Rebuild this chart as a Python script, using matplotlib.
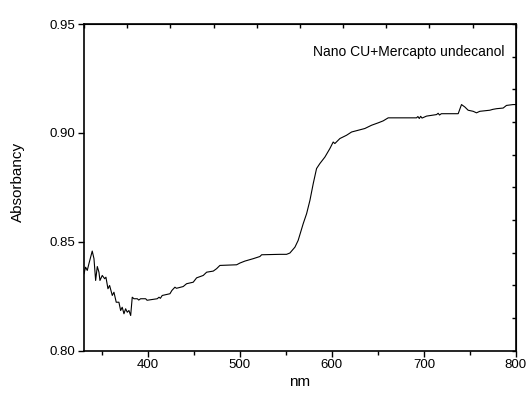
import matplotlib
matplotlib.use('Agg')
import matplotlib.pyplot as plt
import matplotlib.ticker as mtick
import numpy as np

plt.rcParams['font.family'] = ['Liberation Sans', 'DejaVu Sans']

# wavelength (nm) and absorbancy
wavelength = [330.4, 332.2, 334.0, 335.8, 339.4, 341.3, 343.1, 344.9, 346.7, 347.8,
              350.3, 352.9, 354.3, 356.5, 358.3, 361.2, 363.0, 365.5, 368.4, 370.3,
              372.0, 373.9, 375.7, 377.5, 379.3, 381.2, 382.9, 384.8, 388.4, 390.0,
              392.0, 397.5, 399.0, 410.1, 412.0, 413.5, 415.5, 423.9, 426.0, 429.3,
              431.0, 438.3, 442.0, 449.2, 452.9, 460.1, 463.8, 471.0, 474.6, 478.2,
              496.4, 500.0, 505.4, 514.4, 521.7, 523.6, 543.5, 550.7, 554.3, 559.8,
              563.3, 568.8, 572.5, 576.1, 579.7, 583.3, 586.9, 592.4, 597.8, 601.4,
              603.2, 608.7, 615.9, 621.4, 628.6, 635.8, 643.1, 650.3, 655.7, 661.2,
              692.0, 693.5, 695.0, 696.5, 698.0, 702.9, 713.8, 715.5, 717.0, 719.0,
              737.3, 740.9, 744.5, 748.1, 753.6, 757.2, 760.8, 771.7, 775.0, 779.0,
              786.2, 789.8, 797.0, 800.0]
absorbancy = [0.8353, 0.8383, 0.8368, 0.8399, 0.8457, 0.8422, 0.8322, 0.8386, 0.8360, 0.8322,
              0.8345, 0.8330, 0.8337, 0.8284, 0.8299, 0.8253, 0.8268, 0.8222, 0.8222, 0.8184,
              0.8199, 0.8169, 0.8192, 0.8176, 0.8184, 0.8161, 0.8245, 0.8238, 0.8238, 0.8232,
              0.8238, 0.8238, 0.8231, 0.8238, 0.8245, 0.8240, 0.8253, 0.8261, 0.8276, 0.8291,
              0.8286, 0.8294, 0.8307, 0.8314, 0.8334, 0.8345, 0.8360, 0.8365, 0.8376, 0.8391,
              0.8394, 0.8402, 0.8411, 0.8422, 0.8432, 0.8440, 0.8442, 0.8442, 0.8448, 0.8475,
              0.8506, 0.8583, 0.8629, 0.8690, 0.8767, 0.8836, 0.8859, 0.8889, 0.8928, 0.8958,
              0.8951, 0.8974, 0.8989, 0.9004, 0.9012, 0.9020, 0.9035, 0.9046, 0.9055, 0.9069,
              0.9069, 0.9075, 0.9066, 0.9076, 0.9068, 0.9077, 0.9084, 0.9090, 0.9082, 0.9088,
              0.9088, 0.9130, 0.9119, 0.9104, 0.9099, 0.9092, 0.9099, 0.9104, 0.9108, 0.9111,
              0.9114, 0.9126, 0.9130, 0.9130]

fig = plt.figure(figsize=(5.28, 3.97), dpi=100)
ax = fig.add_axes([0.159, 0.117, 0.818, 0.8225])
ax.plot(wavelength, absorbancy, color='k', lw=0.8)

ax.set_xlim(330.4, 800)
ax.set_ylim(0.80, 0.95)
ax.xaxis.set_major_locator(mtick.MultipleLocator(100))
ax.xaxis.set_minor_locator(mtick.MultipleLocator(50))
ax.yaxis.set_major_locator(mtick.MultipleLocator(0.05))
ax.yaxis.set_major_formatter(mtick.FormatStrFormatter('%.2f'))
ax.tick_params(axis='both', which='major', direction='out', length=4, width=1,
               labelsize=9.5, pad=2)
ax.tick_params(axis='x', which='minor', direction='out', length=3, width=1)
for s in ax.spines.values():
    s.set_linewidth(1.2)

# mirrored ticks on top and right, inward, evenly spaced
top = ax.secondary_xaxis('top', functions=(lambda v: (v - 330.4) / (800 - 330.4),
                                            lambda f: 330.4 + f * (800 - 330.4)))
top.set_xticks(np.linspace(0, 1, 11))
top.tick_params(direction='in', length=3, width=1, labeltop=False)
right = ax.secondary_yaxis('right', functions=(lambda v: (v - 0.8) / 0.15,
                                               lambda f: 0.8 + f * 0.15))
right.set_yticks(np.linspace(0, 1, 11))
right.tick_params(direction='in', length=3, width=1, labelright=False)

ax.set_xlabel('nm', fontsize=11, labelpad=3)
ax.set_ylabel('Absorbancy', fontsize=11)
ax.yaxis.set_label_coords(-0.137, 0.515)
ax.text(0.9745, 0.915, 'Nano CU+Mercapto undecanol', transform=ax.transAxes,
        ha='right', va='center', fontsize=10)

fig.savefig('out.png', dpi=100)
